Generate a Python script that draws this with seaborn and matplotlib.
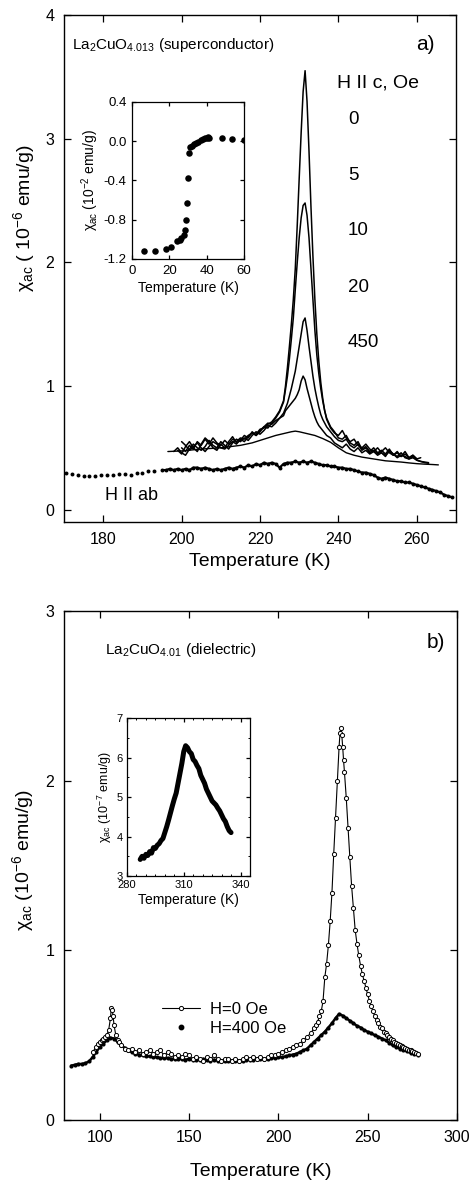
import numpy as np
import pandas as pd
import matplotlib
matplotlib.use("Agg")
import matplotlib.pyplot as plt
from matplotlib.lines import Line2D
from matplotlib.ticker import MultipleLocator
import seaborn as sns

# ---------------- data: panel a) ----------------
nan = np.nan
T_c = [198, 199, 200, 201, 202, 203, 204, 205, 206, 207, 208, 209, 210, 211,
       212, 213, 214, 215, 216, 217, 218, 219, 220, 221, 222, 223, 224, 225,
       226, 226.5, 227, 227.5, 228, 228.5, 229, 229.5, 230, 230.5, 231, 231.5,
       232, 232.5, 233, 233.5, 234, 234.5, 235, 235.5, 236, 236.5,
       237, 238, 239, 240, 241, 242, 243, 244, 245, 246, 247, 248, 249, 250,
       251, 252, 253, 254, 255, 256, 257, 258, 259, 260, 261, 262, 263]

chi_0Oe = [nan, nan, 0.50, 0.47, 0.52, 0.49, 0.55, 0.52, 0.57, 0.53, 0.58, 0.54, 0.52, 0.56,
           0.53, 0.57, 0.55, 0.58, 0.57, 0.60, 0.62, 0.61, 0.65, 0.66, 0.69, 0.71, 0.75, 0.80,
           0.88, 1.00, 1.15, 1.32, 1.50, 1.70, 1.95, 2.30, 2.68, 3.05, 3.38, 3.55,
           3.30, 2.90, 2.45, 2.05, 1.70, 1.42, 1.20, 1.03, 0.90, 0.80,
           0.73, 0.66, 0.62, 0.60, 0.64, 0.58, 0.55, 0.57, 0.52, 0.50, 0.53, 0.49, 0.47, 0.50,
           0.46, 0.44, 0.47, 0.45, 0.43, 0.46, 0.42, 0.41, 0.43, 0.40, 0.39, 0.385, 0.38]
chi_5Oe = [nan, 0.48, 0.45, 0.51, 0.55, 0.50, 0.47, 0.53, 0.58, 0.55, 0.50, 0.48, 0.53, 0.50,
           0.55, 0.59, 0.54, 0.56, 0.60, 0.58, 0.63, 0.60, 0.64, 0.67, 0.66, 0.70, 0.74, 0.79,
           0.87, 0.97, 1.08, 1.22, 1.38, 1.55, 1.78, 2.00, 2.20, 2.36, 2.46, 2.48,
           2.38, 2.20, 1.95, 1.70, 1.45, 1.25, 1.10, 0.98, 0.88, 0.80,
           0.74, 0.67, 0.63, 0.58, 0.57, 0.60, 0.54, 0.52, 0.55, 0.49, 0.51, 0.47, 0.50, 0.46,
           0.48, 0.45, 0.49, 0.44, 0.46, 0.43, 0.47, 0.42, 0.44, 0.41, 0.42, nan, nan]
chi_10Oe = [0.47, 0.50, 0.46, 0.44, 0.49, 0.53, 0.50, 0.48, 0.51, 0.56, 0.52, 0.50, 0.55, 0.52,
            0.49, 0.54, 0.57, 0.55, 0.58, 0.56, 0.60, 0.63, 0.61, 0.64, 0.68, 0.67, 0.70, 0.74,
            0.78, 0.82, 0.86, 0.92, 0.98, 1.05, 1.12, 1.22, 1.32, 1.42, 1.52, 1.55,
            1.45, 1.32, 1.20, 1.08, 0.98, 0.90, 0.83, 0.77, 0.73, 0.70,
            0.67, 0.63, 0.59, 0.56, 0.55, 0.57, 0.52, 0.50, 0.53, 0.48, 0.50, 0.46, 0.48, 0.45,
            0.47, 0.50, 0.46, 0.44, 0.47, 0.43, 0.45, 0.42, 0.44, 0.41, nan, nan, nan]
chi_20Oe = [nan, nan, 0.55, 0.52, 0.48, 0.51, 0.54, 0.50, 0.47, 0.51, 0.55, 0.53, 0.50, 0.49,
            0.52, 0.55, 0.53, 0.57, 0.55, 0.59, 0.62, 0.60, 0.63, 0.67, 0.70, 0.69, 0.72, 0.74,
            0.76, 0.80, 0.82, 0.84, 0.86, 0.88, 0.90, 0.93, 0.97, 1.04, 1.08, 1.05,
            0.98, 0.92, 0.86, 0.80, 0.75, 0.71, 0.68, 0.66, 0.64, 0.62,
            0.60, 0.58, 0.54, 0.52, 0.50, 0.53, 0.49, 0.47, 0.50, 0.46, 0.48, 0.45, 0.47, 0.44,
            0.46, 0.43, 0.48, 0.45, 0.42, 0.44, 0.43, 0.41, 0.42, 0.40, 0.39, 0.38, 0.375]

T_450 = [196.5, 200, 205, 210, 215, 218, 220, 222, 224, 226, 228, 229, 230, 232, 234,
         236, 238, 240, 242, 244, 246, 248, 250, 252, 254, 256, 258, 260, 262, 264, 265.5]
chi_450Oe = [0.47, 0.475, 0.49, 0.50, 0.52, 0.54, 0.56, 0.58, 0.60, 0.615, 0.63, 0.635, 0.63,
             0.615, 0.60, 0.575, 0.545, 0.50, 0.46, 0.44, 0.425, 0.415, 0.405, 0.395, 0.39,
             0.385, 0.378, 0.372, 0.368, 0.365, 0.362]

T_ab = [170.5, 172, 173.5, 175, 176.5, 178, 179.5, 181, 182.5, 184, 185.5, 187, 188.5, 190,
        191.5, 193,
        195, 196, 197, 198, 199, 200, 201, 202, 203, 204, 205, 206, 207, 208, 209, 210, 211,
        212, 213, 214, 215, 216, 217, 218, 219, 220, 221, 222, 223, 224, 225, 226, 227, 228,
        229, 230, 231, 232, 233, 234, 235, 236, 237, 238, 239, 240, 241, 242, 243, 244, 245,
        246, 247, 248, 249, 250, 251, 252, 253, 254, 255, 256, 257, 258, 259, 260, 261, 262,
        263, 264, 265, 266, 267, 268, 269]
chi_ab = [0.30, 0.29, 0.28, 0.27, 0.27, 0.27, 0.28, 0.28, 0.28, 0.29, 0.29, 0.28, 0.30, 0.30,
          0.31, 0.31,
          0.32, 0.32, 0.33, 0.32, 0.33, 0.32, 0.33, 0.32, 0.34, 0.34,
          0.33, 0.34, 0.33, 0.32, 0.33, 0.32, 0.33, 0.34, 0.33, 0.34,
          0.35, 0.34, 0.36, 0.35, 0.37, 0.36, 0.38, 0.37, 0.38, 0.37,
          0.34, 0.37, 0.38, 0.38, 0.39, 0.38, 0.39, 0.38, 0.39, 0.38,
          0.37, 0.36, 0.36, 0.35, 0.35, 0.34, 0.34, 0.33, 0.33, 0.32,
          0.31, 0.30, 0.30, 0.29, 0.28, 0.26, 0.25, 0.26, 0.25, 0.24,
          0.23, 0.23, 0.22, 0.22, 0.21, 0.20, 0.19, 0.18, 0.17, 0.16,
          0.15, 0.14, 0.12, 0.11, 0.10]
n_sparse_ab = 16

field_labels = ["0", "5", "10", "20", "450"]

# inset a): low temperature transition
T_in_a = [6.2, 12.4, 18.3, 21.0, 24.0, 25.5, 26.5, 27.9, 28.6, 28.9, 29.3, 30.0, 30.6, 31.2,
          32.2, 33.3, 34.4, 35.6, 36.8, 37.9, 39.0, 40.0, 40.9, 41.5, 48.0, 53.8, 60.0]
chi_in_a = [-1.12, -1.115, -1.095, -1.075, -1.02, -1.007, -0.99, -0.955, -0.905, -0.80,
            -0.63, -0.37, -0.12, -0.06, -0.045, -0.03, -0.02, -0.005, 0.01, 0.02, 0.03,
            0.035, 0.04, 0.03, 0.035, 0.02, 0.01]

# ---------------- data: panel b) ----------------
T_H0 = [96, 98, 99, 100, 101, 102, 103, 104, 105, 106, 106.5, 107, 107.5, 108, 109, 110, 111,
        112, 114, 116, 118, 120, 122, 124, 126, 128, 130, 132, 134, 136, 138, 140, 142, 144,
        146, 148, 150, 152, 154, 156, 158, 160, 162, 164, 166, 168, 170, 172, 174, 176, 178,
        180, 182, 184, 186, 188, 190, 192, 194, 196, 198, 200, 202, 204, 206, 208, 210, 212,
        214, 216, 218, 220, 221, 222, 223, 224, 225, 226, 227, 228, 229, 230, 231, 232, 233,
        234, 234.5, 235, 235.5, 236, 236.5, 237, 238, 239, 240, 241, 242, 243, 244, 245, 246,
        247, 248, 249, 250, 251, 252, 253, 254, 255, 256, 257, 258, 259, 260, 261, 262, 263,
        264, 265, 266, 267, 268, 269, 270, 271, 272, 273, 274, 275, 276, 277, 278]
chi_H0 = [0.40, 0.43, 0.45, 0.46, 0.47, 0.48, 0.49, 0.50, 0.53, 0.60, 0.66, 0.65, 0.61, 0.56,
          0.50, 0.47, 0.46,
          0.44, 0.42, 0.41, 0.42, 0.40, 0.41, 0.39, 0.40, 0.41, 0.39, 0.40, 0.41, 0.38, 0.40,
          0.39, 0.37, 0.38,
          0.37, 0.39, 0.38, 0.36, 0.37, 0.36, 0.35, 0.37, 0.36, 0.38, 0.36, 0.35, 0.36, 0.36,
          0.35, 0.36, 0.35,
          0.36, 0.37, 0.36, 0.37, 0.36, 0.37, 0.36, 0.37, 0.38, 0.38, 0.39, 0.40, 0.41, 0.42,
          0.43, 0.44, 0.45,
          0.47, 0.49, 0.51, 0.54, 0.56, 0.58, 0.61, 0.64, 0.70, 0.84, 0.92, 1.03, 1.17, 1.34,
          1.57, 1.78, 2.00,
          2.20, 2.28, 2.31, 2.27, 2.20, 2.12, 2.05, 1.90, 1.72, 1.55, 1.38, 1.25, 1.12, 1.04,
          0.97, 0.91,
          0.86, 0.82, 0.78, 0.74, 0.70, 0.67, 0.64, 0.61, 0.59, 0.57, 0.55, 0.54, 0.52, 0.51,
          0.50, 0.49, 0.48,
          0.47, 0.46, 0.455, 0.45, 0.44, 0.435, 0.43, 0.425, 0.42, 0.415, 0.41, 0.405, 0.40,
          0.395, 0.39]

T_H400 = [84, 86, 88, 90, 92, 94, 96, 98, 100, 102,
          104, 106, 108, 110, 112, 114, 116, 118, 120, 122,
          124, 126, 128, 130, 132, 134, 136, 138, 140, 142,
          144, 146, 148, 150, 152, 154, 156, 158, 160, 162,
          164, 166, 168, 170, 172, 174, 176, 178, 180, 182,
          184, 186, 188, 190, 192, 194, 196, 198, 200, 202,
          204, 206, 208, 210, 212, 214, 216, 218, 220, 222,
          224, 226, 228, 230, 232, 234, 236, 238, 240, 242,
          244, 246, 248, 250, 252, 254, 256, 258, 260, 262,
          264, 266, 268, 270, 272, 274, 276, 278]
chi_H400 = [0.32, 0.325, 0.33, 0.33, 0.335, 0.345, 0.37, 0.40, 0.43, 0.45,
            0.47, 0.485, 0.48, 0.46, 0.44, 0.425, 0.41, 0.40, 0.39, 0.385,
            0.38, 0.375, 0.375, 0.37, 0.37, 0.365, 0.365, 0.365, 0.36, 0.36,
            0.36, 0.36, 0.355, 0.36, 0.355, 0.355, 0.355, 0.36, 0.355, 0.35,
            0.355, 0.35, 0.35, 0.35, 0.35, 0.35, 0.35, 0.35, 0.35, 0.355,
            0.355, 0.355, 0.36, 0.36, 0.36, 0.36, 0.365, 0.365, 0.37, 0.37,
            0.375, 0.38, 0.385, 0.39, 0.40, 0.41, 0.42, 0.44, 0.46, 0.48,
            0.50, 0.52, 0.545, 0.57, 0.60, 0.625, 0.615, 0.60, 0.585, 0.57,
            0.555, 0.545, 0.53, 0.52, 0.51, 0.50, 0.49, 0.48, 0.47, 0.455,
            0.44, 0.43, 0.42, 0.41, 0.405, 0.395, 0.39, 0.385]

# inset b): high-temperature peak (10^-7 emu/g)
T_in_b = [287, 288, 289, 290, 291, 292, 293, 294, 295, 296, 297, 298, 299, 300, 301, 302, 303,
          304, 305, 306, 307, 308, 309, 310, 311, 312, 313, 314, 315, 316, 317, 318, 319, 320,
          321, 322, 323, 324, 325, 326, 327, 328, 329, 330, 331, 332, 333, 334, 335]
chi_in_b = [3.42, 3.50, 3.45, 3.55, 3.52, 3.62, 3.58, 3.72, 3.70, 3.78, 3.82, 3.90, 3.95, 4.10,
            4.25, 4.42, 4.60, 4.78, 4.95, 5.10, 5.35, 5.60, 5.85, 6.15, 6.30, 6.25, 6.15, 6.10,
            5.95, 5.90, 5.80, 5.72, 5.55, 5.45, 5.35, 5.20, 5.10, 5.00, 4.90, 4.85, 4.80, 4.72,
            4.65, 4.55, 4.45, 4.38, 4.25, 4.15, 4.10]

assert len(T_c) == len(chi_0Oe) == len(chi_5Oe) == len(chi_10Oe) == len(chi_20Oe)
assert len(T_450) == len(chi_450Oe)
assert len(T_ab) == len(chi_ab)
assert len(T_in_a) == len(chi_in_a)
assert len(T_H0) == len(chi_H0)
assert len(T_H400) == len(chi_H400)
assert len(T_in_b) == len(chi_in_b)

# ---------------- style ----------------
sns.set_style("ticks")
plt.rcParams["font.family"] = ["Liberation Sans", "DejaVu Sans"]
plt.rcParams["mathtext.fontset"] = "custom"
plt.rcParams["mathtext.rm"] = "Liberation Sans"
plt.rcParams["mathtext.it"] = "Liberation Sans:italic"
plt.rcParams["mathtext.bf"] = "Liberation Sans:bold"
plt.rcParams["axes.unicode_minus"] = False
plt.rcParams["axes.linewidth"] = 1.0
plt.rcParams["axes.edgecolor"] = "black"
plt.rcParams["text.color"] = "black"
plt.rcParams["axes.labelcolor"] = "black"
plt.rcParams["xtick.color"] = "black"
plt.rcParams["ytick.color"] = "black"

fig = plt.figure(figsize=(4.72, 11.94), dpi=100)

def style_axes(ax, labelsize, length=5, pad=6):
    ax.tick_params(direction="in", top=True, right=True, length=length, width=0.9,
                   labelsize=labelsize, pad=pad, colors="black")
    ax.tick_params(which="minor", direction="in", top=True, right=True, length=length * 0.55,
                   width=0.7)
    for s in ax.spines.values():
        s.set_visible(True)
        s.set_color("black")

# ---------------- panel a ----------------
ax1 = fig.add_axes([0.1356, 0.5628, 0.8305, 0.4246])
df_c = pd.DataFrame({"T": T_c, "0": chi_0Oe, "5": chi_5Oe, "10": chi_10Oe, "20": chi_20Oe})
for lab in ["0", "5", "10", "20"]:
    sns.lineplot(data=df_c, x="T", y=lab, ax=ax1, color="black", lw=1.1, estimator=None,
                 sort=False)
sns.lineplot(x=T_450, y=chi_450Oe, ax=ax1, color="black", lw=1.0, estimator=None, sort=False)
sns.lineplot(x=T_ab[n_sparse_ab:], y=chi_ab[n_sparse_ab:], ax=ax1, color="black", lw=1.6,
             estimator=None, sort=False)
sns.scatterplot(x=T_ab, y=chi_ab, ax=ax1, color="black", s=8, linewidth=0, marker="o")

ax1.set_xlim(170, 270)
ax1.set_ylim(-0.1, 4)
ax1.set_xticks([180, 200, 220, 240, 260])
ax1.set_yticks([0, 1, 2, 3, 4])
style_axes(ax1, 11.5, length=5, pad=7)
ax1.set_xlabel("Temperature (K)", fontsize=14)
ax1.set_ylabel("χ$_{\\mathrm{ac}}$ ( 10$^{-6}$ emu/g)", fontsize=14)
ax1.xaxis.set_label_coords(0.5, -0.062)
ax1.yaxis.set_label_coords(-0.07, 0.60)

ax1.text(0.02, 0.941, "La$_2$CuO$_{4.013}$ (superconductor)", transform=ax1.transAxes,
         fontsize=11, ha="left", va="center")
ax1.text(0.945, 0.941, "a)", transform=ax1.transAxes, fontsize=15, ha="right", va="center")
ax1.text(0.696, 0.866, "H II c, Oe", transform=ax1.transAxes, fontsize=14, ha="left",
         va="center")
for lab, yy in zip(field_labels, [0.793, 0.684, 0.576, 0.4635, 0.355]):
    ax1.text(0.724, yy, lab, transform=ax1.transAxes, fontsize=13.5, ha="left", va="center")
ax1.text(0.105, 0.053, "H II ab", transform=ax1.transAxes, fontsize=13, ha="left",
         va="center")

# inset a
ia = fig.add_axes([0.2797, 0.7831, 0.2373, 0.1315])
sns.scatterplot(x=T_in_a, y=chi_in_a, ax=ia, color="black", s=22, linewidth=0, marker="o")
ia.set_xlim(0, 60)
ia.set_ylim(-1.2, 0.4)
ia.set_xticks([0, 20, 40, 60])
ia.set_yticks([-1.2, -0.8, -0.4, 0.0, 0.4])
ia.set_yticklabels(["-1.2", "-0.8", "-0.4", "0.0", "0.4"])
style_axes(ia, 9.5, length=3, pad=4)
ia.set_xlabel("Temperature (K)", fontsize=10, labelpad=3)
ia.set_ylabel("χ$_{\\mathrm{ac}}$ (10$^{-2}$ emu/g)", fontsize=10, labelpad=2)
for sp in ia.spines.values():
    sp.set_linewidth(0.9)

# ---------------- panel b ----------------
ax2 = fig.add_axes([0.1356, 0.062, 0.8326, 0.4263])
sns.lineplot(x=T_H400, y=chi_H400, ax=ax2, color="black", lw=1.8, estimator=None, sort=False)
sns.scatterplot(x=T_H400, y=chi_H400, ax=ax2, color="black", s=9, linewidth=0, marker="o")
sns.lineplot(x=T_H0, y=chi_H0, ax=ax2, color="black", lw=0.8, estimator=None, sort=False,
             marker="o", markersize=3.0, markerfacecolor="white", markeredgecolor="black",
             markeredgewidth=0.7)

ax2.set_xlim(80, 300)
ax2.set_ylim(0, 3)
ax2.set_xticks([100, 150, 200, 250, 300])
ax2.set_yticks([0, 1, 2, 3])
style_axes(ax2, 11.5, length=5, pad=7)
ax2.set_xlabel("Temperature (K)", fontsize=14)
ax2.set_ylabel("χ$_{\\mathrm{ac}}$ (10$^{-6}$ emu/g)", fontsize=14)
ax2.xaxis.set_label_coords(0.5, -0.085)
ax2.yaxis.set_label_coords(-0.07, 0.51)

ax2.text(0.969, 0.939, "b)", transform=ax2.transAxes, fontsize=15, ha="right", va="center")
ax2.text(0.105, 0.923, "La$_2$CuO$_{4.01}$ (dielectric)", transform=ax2.transAxes,
         fontsize=11, ha="left", va="center")

handles = [Line2D([], [], color="black", lw=0.8, marker="o", markersize=3.0,
                  markerfacecolor="white", markeredgecolor="black", markeredgewidth=0.7),
           Line2D([], [], color="black", ls="none", marker="o", markersize=3.2)]
ax2.legend(handles, ["H=0 Oe", "H=400 Oe"], loc="upper left", bbox_to_anchor=(0.22, 0.255),
           frameon=False, fontsize=12, handlelength=2.3, handletextpad=0.6,
           labelspacing=0.25, borderpad=0.2)

# inset b
ib = fig.add_axes([0.269, 0.2663, 0.2606, 0.1323])
sns.lineplot(x=T_in_b, y=chi_in_b, ax=ib, color="black", lw=3.6, estimator=None, sort=False)
ib.set_xlim(280, 345)
ib.set_ylim(3, 7)
ib.set_xticks([280, 310, 340])
ib.set_yticks([3, 4, 5, 6, 7])
ib.xaxis.set_minor_locator(MultipleLocator(5))
ib.yaxis.set_minor_locator(MultipleLocator(0.5))
style_axes(ib, 8, length=3, pad=3)
ib.set_xlabel("Temperature (K)", fontsize=10, labelpad=2)
ib.set_ylabel("χ$_{\\mathrm{ac}}$ (10$^{-7}$ emu/g)", fontsize=9, labelpad=2)
for sp in ib.spines.values():
    sp.set_linewidth(0.9)

fig.savefig("out.png", dpi=100)
